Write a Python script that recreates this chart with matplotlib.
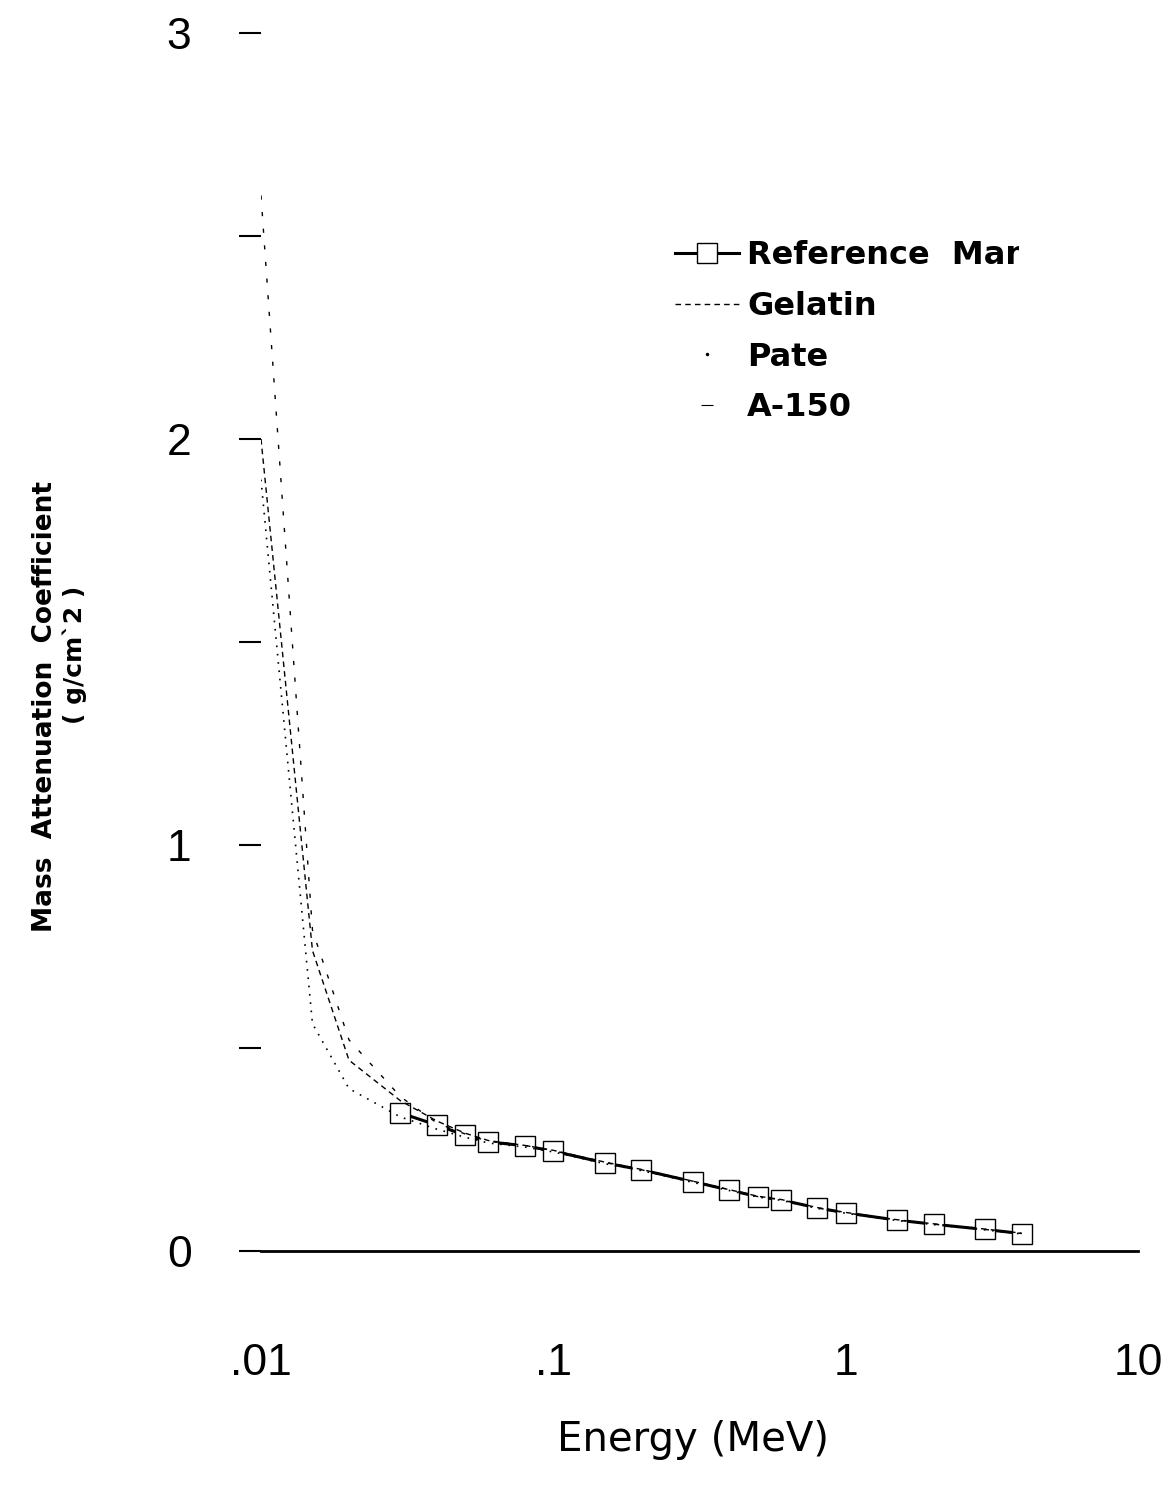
import matplotlib
matplotlib.use('Agg')
import matplotlib.pyplot as plt
from matplotlib.lines import Line2D
from matplotlib.ticker import FixedLocator, FixedFormatter, NullLocator
from matplotlib.transforms import Bbox, TransformedBbox

# photon energy (MeV)
energy = [0.01, 0.015, 0.02, 0.03, 0.04, 0.05, 0.06, 0.08, 0.1, 0.15, 0.2,
          0.3, 0.4, 0.5, 0.6, 0.8, 1.0, 1.5, 2.0, 3.0, 4.0]
# reference man curve starts at 30 keV
energy_ref = [0.03, 0.04, 0.05, 0.06, 0.08, 0.1, 0.15, 0.2, 0.3, 0.4, 0.5,
              0.6, 0.8, 1.0, 1.5, 2.0, 3.0, 4.0]

ref_man = [0.34, 0.31, 0.285, 0.269, 0.259, 0.246, 0.217, 0.200, 0.171, 0.150,
           0.134, 0.126, 0.106, 0.094, 0.076, 0.066, 0.053, 0.043]
gelatin = [2.0, 0.74, 0.47, 0.37, 0.32, 0.29, 0.272, 0.26, 0.248, 0.219, 0.201,
           0.172, 0.151, 0.135, 0.127, 0.107, 0.095, 0.077, 0.067, 0.054, 0.044]
pate = [1.9, 0.56, 0.40, 0.33, 0.30, 0.28, 0.266, 0.256, 0.244, 0.215, 0.198,
        0.169, 0.149, 0.133, 0.125, 0.105, 0.093, 0.075, 0.065, 0.052, 0.042]
a150 = [2.6, 0.79, 0.52, 0.38, 0.315, 0.288, 0.27, 0.26, 0.247, 0.218, 0.2,
        0.172, 0.151, 0.134, 0.126, 0.106, 0.094, 0.076, 0.066, 0.053, 0.043]

labels = ['Reference  Man', 'Gelatin', 'Pate', 'A-150']
xtick_vals = [0.01, 0.1, 1, 10]
xtick_text = ['.01', '.1', '1', '10']

W, H = 1167, 1485
fig = plt.figure(figsize=(W / 100, H / 100), dpi=100)
ax = fig.add_axes([261 / W, 1 - 1251 / H, 877 / W, 1218 / H])

ref, = ax.plot(energy_ref, ref_man, '-s', color='k', lw=2.2, ms=14,
               mfc='white', mew=1.0, zorder=2)
ax.plot(energy, gelatin, ls=(0, (4, 3)), lw=1.0, color='k', zorder=3)
ax.plot(energy, pate, ls=(0, (1, 4)), lw=1.2, color='k', zorder=3)
ax.plot(energy, a150, ls=(0, (3, 9)), lw=1.0, color='k', zorder=3)

ax.set_xscale('log')
ax.set_xlim(0.01, 10)
ax.set_ylim(0, 3)
for s in ['top', 'right', 'left']:
    ax.spines[s].set_visible(False)
ax.spines['bottom'].set_linewidth(2)

ax.xaxis.set_major_locator(FixedLocator(xtick_vals))
ax.xaxis.set_major_formatter(FixedFormatter(xtick_text))
ax.xaxis.set_minor_locator(NullLocator())
ax.set_yticks([0, 1, 2, 3])
ax.set_yticks([0.5, 1.5, 2.5], minor=True)
ax.tick_params(axis='x', which='both', length=0, pad=66, labelsize=32,
               labelfontfamily='Liberation Sans')
ax.tick_params(axis='y', which='both', length=16, width=1.5, pad=34, labelsize=32,
               labelfontfamily='Liberation Sans')

handles = [ref,
           Line2D([], [], ls=(0, (4, 3)), lw=1.0, color='k'),
           Line2D([], [], marker='.', ls='none', ms=3, color='k'),
           Line2D([], [], marker='_', ls='none', ms=8, mew=0.8, color='k')]
leg = ax.legend(handles, labels, loc='upper left',
                bbox_to_anchor=(675 / W, 1 - 240 / H), bbox_transform=fig.transFigure,
                frameon=False, borderpad=0, borderaxespad=0, handlelength=2,
                handletextpad=0.25, labelspacing=0.62, numpoints=1,
                prop={'family': 'DejaVu Sans', 'weight': 'bold', 'size': 23})
# the original legend runs off the page edge
clip = TransformedBbox(Bbox([[0, 0], [10.19, H / 100]]), fig.dpi_scale_trans)
for t in leg.get_texts():
    t.set_clip_box(clip)
    t.set_clip_on(True)

fig.text(45 / W, 1 - 707 / H, 'Mass  Attenuation  Coefficient', rotation=90,
         ha='center', va='center', fontsize=19, fontweight='bold')
fig.text(75 / W, 1 - 655 / H, '( g/cm`2 )', rotation=90,
         ha='center', va='center', fontsize=18, fontweight='bold')
fig.text(693 / W, 1 - 1440 / H, 'Energy (MeV)', ha='center', va='center', fontsize=29)

fig.savefig('out.png', dpi=100)
